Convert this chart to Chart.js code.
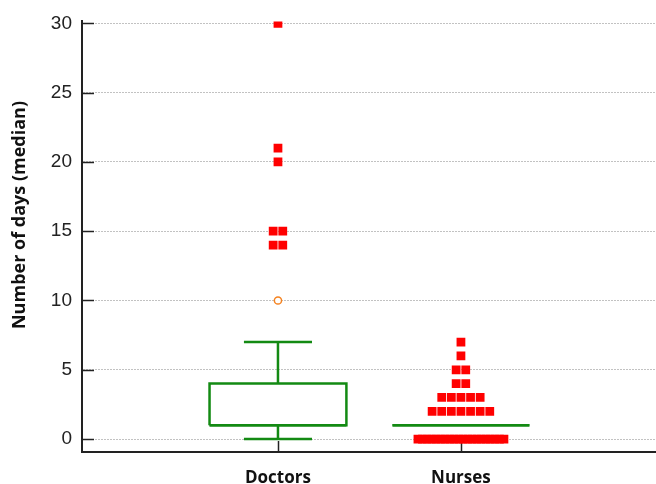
<!DOCTYPE html>
<html>
<head>
<meta charset="utf-8">
<script src="https://cdn.jsdelivr.net/npm/chart.js@4.4.1/dist/chart.umd.min.js"></script>
<style>
  html, body { margin: 0; padding: 0; background: #fff; }
  #wrap { width: 656px; height: 484px; }
</style>
</head>
<body>
<div id="wrap"><canvas id="chart" width="656" height="484"></canvas></div>
<script>
// box plot: number of days (median), doctors vs nurses

const groups = ['Doctors', 'Nurses'];
const groupPos = [1, 2];

// box statistics per group
const whiskerLow = [0, 1];
const quartile1 = [1, 1];
const medians = [1, 1];
const quartile3 = [4, 1];
const whiskerHigh = [7, 1];

// outside values (open circle) and far-out values (filled squares)
const doctorsOutside = [10];
const doctorsFarOut = [14, 14, 15, 15, 20, 21, 30];
const nursesOutside = [];
const nursesFarOut = [
  0, 0, 0, 0, 0, 0, 0, 0, 0, 0, 0, 0, 0, 0, 0, 0, 0, 0, 0, 0,
  2, 2, 2, 2, 2, 2, 2,
  3, 3, 3, 3, 3,
  4, 4,
  5, 5,
  6,
  7
];

const yTicks = [0, 5, 10, 15, 20, 25, 30];
const yTitle = 'Number of days (median)';

const GREEN = '#138a13';
const RED = '#ff0000';
const ORANGE = '#f5821f';
const BOX_HALF = 0.374;   // half box width, in category units
const CAP_HALF = 0.186;   // half whisker cap width
const DOT_STEP = 0.0525;  // spacing of stacked markers
const DOT_SPAN = 0.47;    // widest a row of markers may get

function line(points) {
  return {
    data: points.map(p => ({ x: p[0], y: p[1] })),
    showLine: true,
    borderColor: GREEN,
    borderWidth: 2.5,
    borderJoinStyle: 'miter',
    borderCapStyle: 'butt',
    pointRadius: 0,
    fill: false
  };
}

function boxDatasets(i) {
  const x = groupPos[i];
  const l = x - BOX_HALF, r = x + BOX_HALF;
  const sets = [];
  sets.push(line([[l, quartile1[i]], [r, quartile1[i]], [r, quartile3[i]], [l, quartile3[i]], [l, quartile1[i]]]));
  sets.push(line([[l, medians[i]], [r, medians[i]]]));
  if (whiskerHigh[i] > quartile3[i]) {
    sets.push(line([[x, quartile3[i]], [x, whiskerHigh[i]]]));
    sets.push(line([[x - CAP_HALF, whiskerHigh[i]], [x + CAP_HALF, whiskerHigh[i]]]));
  }
  if (whiskerLow[i] < quartile1[i]) {
    sets.push(line([[x, quartile1[i]], [x, whiskerLow[i]]]));
    sets.push(line([[x - CAP_HALF, whiskerLow[i]], [x + CAP_HALF, whiskerLow[i]]]));
  }
  return sets;
}

// spread equal values sideways like a dot plot
function dotPoints(values, x) {
  const counts = {};
  values.forEach(v => { counts[v] = (counts[v] || 0) + 1; });
  const pts = [];
  Object.keys(counts).forEach(k => {
    const n = counts[k];
    const step = n > 1 ? Math.min(DOT_STEP, DOT_SPAN / (n - 1)) : 0;
    for (let j = 0; j < n; j++) {
      pts.push({ x: x + (j - (n - 1) / 2) * step, y: Number(k) });
    }
  });
  return pts;
}

function farOutSet(values, x) {
  return {
    data: dotPoints(values, x),
    pointStyle: 'rect',
    pointRadius: 6.2,
    pointBackgroundColor: RED,
    pointBorderWidth: 0,
    pointBorderColor: RED
  };
}

function outsideSet(values, x) {
  return {
    data: dotPoints(values, x),
    pointStyle: 'circle',
    pointRadius: 3.6,
    pointBackgroundColor: '#fff',
    pointBorderWidth: 1.5,
    pointBorderColor: ORANGE
  };
}

const datasets = [
  ...boxDatasets(0),
  ...boxDatasets(1),
  farOutSet(nursesFarOut, groupPos[1]),
  outsideSet(nursesOutside, groupPos[1]),
  farOutSet(doctorsFarOut, groupPos[0]),
  outsideSet(doctorsOutside, groupPos[0])
];

// short tick marks pointing into the plot, and the rotated y title
const innerTicks = {
  id: 'innerTicks',
  beforeDatasetsDraw(chart) {
    const { ctx, chartArea, scales: { x, y } } = chart;
    ctx.save();
    ctx.strokeStyle = '#222';
    ctx.lineWidth = 1.5;
    yTicks.forEach(v => {
      const py = Math.round(y.getPixelForValue(v)) + 0.5;
      ctx.beginPath();
      ctx.moveTo(chartArea.left, py);
      ctx.lineTo(chartArea.left + 12, py);
      ctx.stroke();
    });
    groupPos.forEach(v => {
      const px = Math.round(x.getPixelForValue(v)) + 0.5;
      ctx.beginPath();
      ctx.moveTo(px, chartArea.bottom);
      ctx.lineTo(px, chartArea.bottom - 11);
      ctx.stroke();
    });
    ctx.restore();
  },
  afterDraw(chart) {
    const ctx = chart.ctx;
    ctx.save();
    ctx.translate(20, 215);
    ctx.rotate(-Math.PI / 2);
    ctx.fillStyle = '#111';
    ctx.font = 'bold 18px "Open Sans"';
    ctx.textAlign = 'center';
    ctx.textBaseline = 'middle';
    ctx.fillText(yTitle, 0, 0);
    ctx.restore();
  }
};

new Chart(document.getElementById('chart'), {
  type: 'scatter',
  data: { datasets: datasets },
  plugins: [innerTicks],
  options: {
    responsive: false,
    animation: false,
    layout: { autoPadding: false, padding: { top: 20, left: 0, right: 0, bottom: 0 } },
    plugins: {
      legend: { display: false },
      tooltip: { enabled: false }
    },
    scales: {
      x: {
        type: 'linear',
        min: -0.071,
        max: 3.066,
        afterBuildTicks: scale => { scale.ticks = groupPos.map(v => ({ value: v })); },
        afterFit: scale => {
          scale.height = 32;
          scale.paddingLeft = 0;
          scale.paddingRight = 0;
        },
        grid: { display: false, drawTicks: false },
        border: { display: true, color: '#222', width: 2 },
        ticks: {
          padding: 16,
          maxRotation: 0,
          color: '#111',
          font: { family: 'Open Sans', size: 17, weight: 'bold' },
          callback: v => groups[groupPos.indexOf(v)]
        }
      },
      y: {
        min: -0.935,
        max: 30.14,
        afterBuildTicks: scale => { scale.ticks = yTicks.map(v => ({ value: v })); },
        afterFit: scale => { scale.width = 82; },
        grid: {
          color: '#c2c2c2',
          lineWidth: 1,
          drawTicks: false
        },
        border: { display: true, color: '#222', width: 2, dash: [2, 1] },
        ticks: {
          padding: 10,
          color: '#222',
          font: { family: 'Liberation Sans', size: 19 }
        }
      }
    }
  }
});
</script>
</body>
</html>
